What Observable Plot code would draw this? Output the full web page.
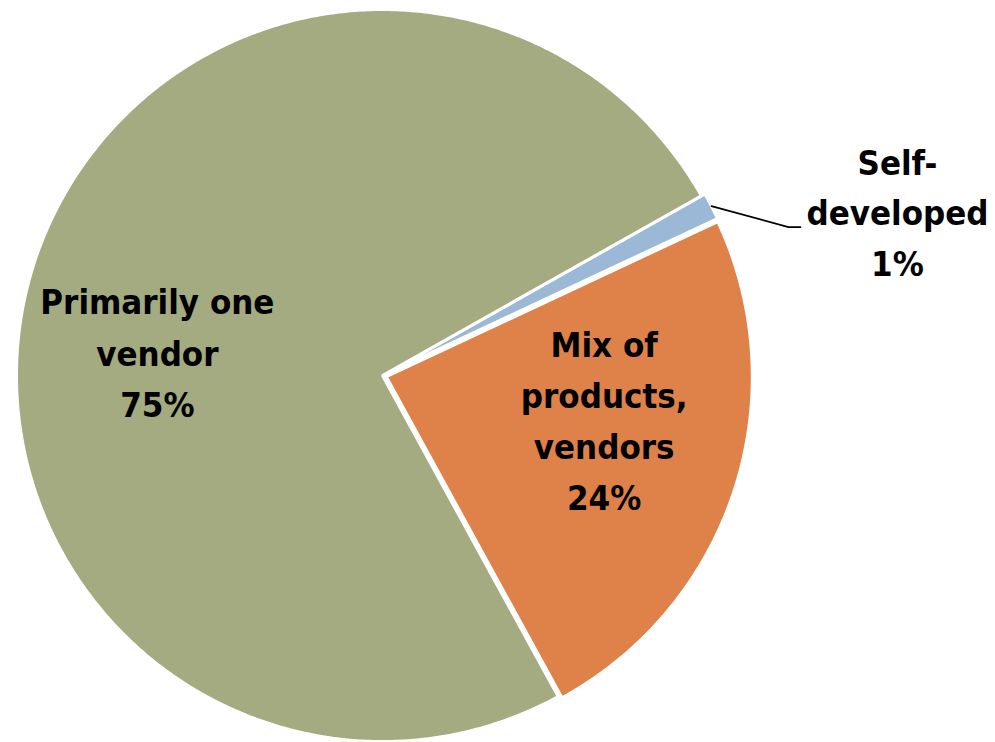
<!DOCTYPE html>
<html>
<head>
<meta charset="utf-8">
<script src="https://cdn.jsdelivr.net/npm/d3@7"></script>
<script src="https://cdn.jsdelivr.net/npm/@observablehq/plot@0.6"></script>
<style>
  html, body { margin: 0; padding: 0; background: #ffffff; }
  #chart svg { display: block; }
</style>
</head>
<body>
<div id="chart"></div>
<script>
// ---------- data ----------
const categories = ["Self-developed", "Mix of products, vendors", "Primarily one vendor"];
const labelText = ["Self-\ndeveloped", "Mix of\nproducts,\nvendors", "Primarily one\nvendor"];
const shares = [1.2, 24.0, 74.8];           // percent
const colors = ["#9BB9D6", "#DF8249", "#A4AB80"];

// ---------- layout (pixels) ----------
const W = 995, H = 742;
const cxPx = 382, cyPx = 375, Rpx = 366;
const startDeg = 60.6;                      // first slice starts here (clockwise from 12 o'clock)
const explodePx = [4, 4, 0];
const labelRadius = [1.0, 0.62, 0.6];
const labelDx = [0, 6, -14];
const labelDy = [0, -29, 34];
const leaderElbowPx = [77, 21];             // from slice edge to elbow (px)
const leaderTailPx = 12;                    // horizontal tail (px)
const outsideTextPx = [97, -18];            // from tail end to label centre (px)
const fontSize = 34.5;

const rows = categories.map((c, i) => ({category: c, share: shares[i], color: colors[i], i}));

const a0 = startDeg * Math.PI / 180;
const arcs = d3.pie().sort(null).value(d => d.share).startAngle(a0).endAngle(a0 + 2 * Math.PI)(rows);

const features = arcs.map(a => {
  const i = a.data.i;
  const mid = (a.startAngle + a.endAngle) / 2;
  const off = explodePx[i] / Rpx;
  const ox = off * Math.sin(mid), oy = off * Math.cos(mid);
  const pts = [[ox, oy]];
  const n = Math.max(6, Math.ceil((a.endAngle - a.startAngle) / (Math.PI / 360)));
  for (let k = 0; k <= n; k++) {
    const t = a.startAngle + (a.endAngle - a.startAngle) * k / n;
    pts.push([ox + Math.sin(t), oy + Math.cos(t)]);
  }
  pts.push([ox, oy]);
  return {type: "Feature", properties: {color: a.data.color, category: a.data.category},
          geometry: {type: "Polygon", coordinates: [pts]}};
});

const inside = [];
const leader = [];
const outside = [];
arcs.forEach(a => {
  const i = a.data.i;
  const mid = (a.startAngle + a.endAngle) / 2;
  const txt = labelText[i] + "\n" + Math.round(a.data.share) + "%";
  if (i === 0) {
    const r = labelRadius[i] + explodePx[i] / Rpx;
    const e = [r * Math.sin(mid), r * Math.cos(mid)];
    const elbow = [e[0] + leaderElbowPx[0] / Rpx, e[1] - leaderElbowPx[1] / Rpx];
    const tail = [elbow[0] + leaderTailPx / Rpx, elbow[1]];
    leader.push({x: e[0], y: e[1]}, {x: elbow[0], y: elbow[1]}, {x: tail[0], y: tail[1]});
    outside.push({x: tail[0] + outsideTextPx[0] / Rpx, y: tail[1] - outsideTextPx[1] / Rpx, text: txt});
  } else {
    const r = labelRadius[i];
    inside.push({x: r * Math.sin(mid), y: r * Math.cos(mid), text: txt, dx: labelDx[i], dy: labelDy[i]});
  }
});

const fontFamily = "'DejaVu Sans Condensed', 'DejaVu Sans', sans-serif";

const chart = Plot.plot({
  width: W,
  height: H,
  marginLeft: cxPx - Rpx,
  marginRight: W - (cxPx + Rpx),
  marginTop: cyPx - Rpx,
  marginBottom: H - (cyPx + Rpx),
  projection: {
    type: "reflect-y",
    domain: {type: "MultiPoint", coordinates: [[-1, -1], [1, 1]]},
    clip: false
  },
  color: {type: "identity"},
  style: {background: "#ffffff", fontFamily},
  marks: [
    Plot.geo(features, {fill: d => d.properties.color, stroke: "white", strokeWidth: 3, strokeLinejoin: "miter"}),
    Plot.line(leader, {x: "x", y: "y", stroke: "black", strokeWidth: 1.7, curve: "linear"}),
    ...inside.map(d => Plot.text([d], {x: "x", y: "y", text: "text", dx: d.dx, dy: d.dy,
      fontSize, fontWeight: "bold", fill: "black", lineHeight: d.text.split("\n").length > 3 ? 1.48 : 1.5,
      textAnchor: "middle"})),
    Plot.text(outside, {x: "x", y: "y", text: "text", fontSize, fontWeight: "bold",
      fill: "black", lineHeight: 1.46, textAnchor: "middle"})
  ]
});
document.getElementById("chart").appendChild(chart);
</script>
</body>
</html>
